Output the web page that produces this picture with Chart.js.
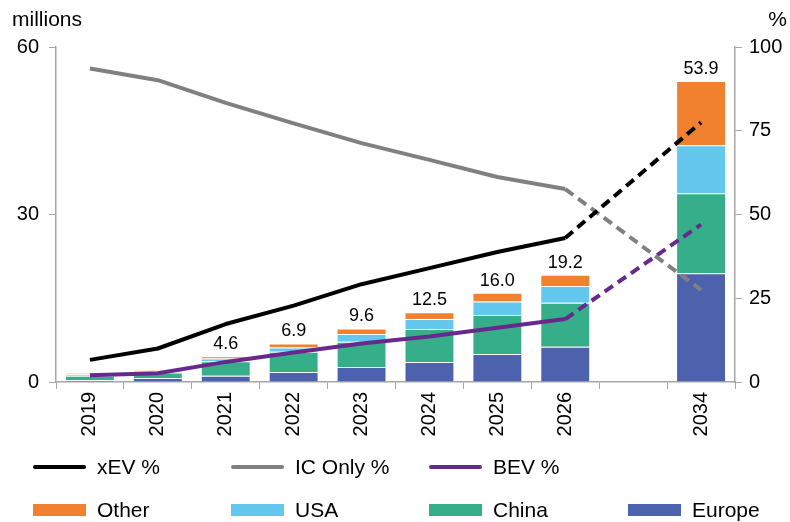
<!DOCTYPE html>
<html>
<head>
<meta charset="utf-8">
<script src="https://cdn.jsdelivr.net/npm/chart.js@4.4.1/dist/chart.umd.min.js"></script>
<style>
    body { margin: 0; background: #ffffff; }
    #wrap { position: relative; width: 790px; height: 522px; font-family: 'Liberation Sans', Arial, sans-serif; }
    #legend .item { position: absolute; height: 24px; line-height: 24px; font-size: 21px; color: #000; display: flex; align-items: center; white-space: nowrap; }
    #legend .line { display: inline-block; width: 53px; height: 4px; border-radius: 2px; margin-right: 11px; }
    #legend .box { display: inline-block; width: 53px; height: 12px; margin-right: 11px; }
</style>
</head>
<body>
<div id="wrap">
    <canvas id="evChart" width="790" height="522"></canvas>
    <div id="legend"></div>
</div>
<script>
// Categories (blank slot between 2026 and 2034)
const years = ['2019', '2020', '2021', '2022', '2023', '2024', '2025', '2026', '', '2034'];

// Sales by region, millions
const europe = [0.3, 0.7, 1.1, 1.8, 2.7, 3.6, 5.0, 6.3, null, 19.5];
const china  = [0.8, 1.0, 2.6, 3.6, 4.5, 5.9, 7.0, 7.9, null, 14.3];
const usa    = [0.3, 0.2, 0.5, 0.8, 1.4, 1.8, 2.4, 3.0, null, 8.6];
const other  = [0.2, 0.2, 0.4, 0.7, 1.0, 1.2, 1.6, 2.0, null, 11.5];

// Which columns get a total on top
const showTotal = [false, false, true, true, true, true, true, true, false, true];

// Share of sales, %
const xevShare = [6.6, 10.0, 17.3, 22.8, 29.2, 34.0, 38.8, 43.0, null, 77.5];
const icShare  = [93.6, 90.1, 83.3, 77.2, 71.3, 66.3, 61.2, 57.6, null, 27.5];
const bevShare = [2.0, 2.6, 6.0, 8.8, 11.5, 13.6, 16.2, 18.8, null, 47.0];

const leftTicks = [0, 30, 60];
const rightTicks = [0, 25, 50, 75, 100];

const FONT = "'Liberation Sans', Arial, sans-serif";
const axisColor = '#a6a6a6';
const forecastFrom = 7; // segments after 2026 are dashed

const dashedAfter = ctx => ctx.p0DataIndex >= forecastFrom ? [10, 6] : undefined;

function barSet(label, data, color) {
    return {
        type: 'bar',
        label: label,
        data: data,
        backgroundColor: color,
        borderColor: 'rgba(255,255,255,0.45)',
        borderWidth: 1,
        yAxisID: 'y',
        stack: 'sales',
        order: 1,
        barPercentage: 0.735,
        categoryPercentage: 1.0,
    };
}

function lineSet(label, data, color, width) {
    return {
        type: 'line',
        label: label,
        data: data,
        borderColor: color,
        backgroundColor: color,
        borderWidth: width,
        pointRadius: 0,
        tension: 0,
        spanGaps: true,
        borderJoinStyle: 'round',
        yAxisID: 'y1',
        order: 0,
        segment: { borderDash: dashedAfter },
    };
}

// Axis titles at the top corners
const cornerTitles = {
    id: 'cornerTitles',
    afterDraw(chart) {
        const c = chart.ctx;
        c.save();
        c.fillStyle = '#000';
        c.font = '21px ' + FONT;
        c.textBaseline = 'middle';
        c.textAlign = 'left';
        c.fillText('millions', 12, 20);
        c.textAlign = 'right';
        c.fillText('%', 787, 20);
        c.restore();
    }
};

// Stack totals above the bars
const totalLabels = {
    id: 'totalLabels',
    afterDatasetsDraw(chart) {
        const c = chart.ctx;
        const topMeta = chart.getDatasetMeta(3);
        c.save();
        c.fillStyle = '#000';
        c.font = '18px ' + FONT;
        c.textAlign = 'center';
        c.textBaseline = 'bottom';
        years.forEach((y, i) => {
            if (!showTotal[i]) return;
            const total = europe[i] + china[i] + usa[i] + other[i];
            const bar = topMeta.data[i];
            c.fillText(total.toFixed(1), bar.x, bar.y - 3);
        });
        c.restore();
    }
};

const ctx = document.getElementById('evChart').getContext('2d');
const chart = new Chart(ctx, {
    data: {
        labels: years,
        datasets: [
            barSet('Europe', europe, '#4d62ac'),
            barSet('China', china, '#36ae8a'),
            barSet('USA', usa, '#64c7ee'),
            barSet('Other', other, '#f2812f'),
            lineSet('xEV %', xevShare, '#000000', 4),
            lineSet('IC Only %', icShare, '#808080', 4),
            lineSet('BEV %', bevShare, '#68298c', 4),
        ],
    },
    options: {
        responsive: false,
        animation: false,
        devicePixelRatio: 1,
        layout: { padding: { top: 47, left: 0, right: 0, bottom: 0 } },
        plugins: {
            legend: { display: false },
            tooltip: { enabled: false },
        },
        scales: {
            x: {
                stacked: true,
                offset: true,
                grid: { display: true, drawOnChartArea: false, drawTicks: true, tickLength: 7, color: axisColor, offset: true },
                border: { display: true, color: axisColor, width: 1.5 },
                ticks: { color: '#000', font: { family: FONT, size: 20 }, minRotation: 90, maxRotation: 90, autoSkip: false, padding: 3 },
                afterFit(scale) { scale.height = 140; },
            },
            y: {
                position: 'left',
                stacked: true,
                min: 0,
                max: 60,
                grid: { display: true, drawOnChartArea: false, drawTicks: true, tickLength: 7, color: axisColor },
                border: { display: true, color: axisColor, width: 1.5 },
                ticks: { color: '#000', font: { family: FONT, size: 20 }, padding: 10, stepSize: 30 },
                afterBuildTicks(scale) { scale.ticks = leftTicks.map(v => ({ value: v })); },
                afterFit(scale) { scale.width = 56; },
            },
            y1: {
                position: 'right',
                min: 0,
                max: 100,
                grid: { display: true, drawOnChartArea: false, drawTicks: true, tickLength: 7, color: axisColor },
                border: { display: true, color: axisColor, width: 1.5 },
                ticks: { color: '#000', font: { family: FONT, size: 20 }, padding: 7, stepSize: 25 },
                afterBuildTicks(scale) { scale.ticks = rightTicks.map(v => ({ value: v })); },
                afterFit(scale) { scale.width = 55; },
            },
        },
    },
    plugins: [cornerTitles, totalLabels],
});

// Two-row legend under the axis
const legendRows = [
    { y: 467, names: ['xEV %', 'IC Only %', 'BEV %'] },
    { y: 510, names: ['Other', 'USA', 'China', 'Europe'] },
];
const legendCols = [33, 231, 429, 628];
const legendEl = document.getElementById('legend');
legendRows.forEach(row => {
    row.names.forEach((name, k) => {
        const ds = chart.data.datasets.find(d => d.label === name);
        const item = document.createElement('div');
        item.className = 'item';
        item.style.left = legendCols[k] + 'px';
        item.style.top = (row.y - 12) + 'px';
        const swatch = document.createElement('span');
        swatch.className = ds.type === 'line' ? 'line' : 'box';
        swatch.style.background = ds.type === 'line' ? ds.borderColor : ds.backgroundColor;
        item.appendChild(swatch);
        item.appendChild(document.createTextNode(name));
        legendEl.appendChild(item);
    });
});
</script>
</body>
</html>
